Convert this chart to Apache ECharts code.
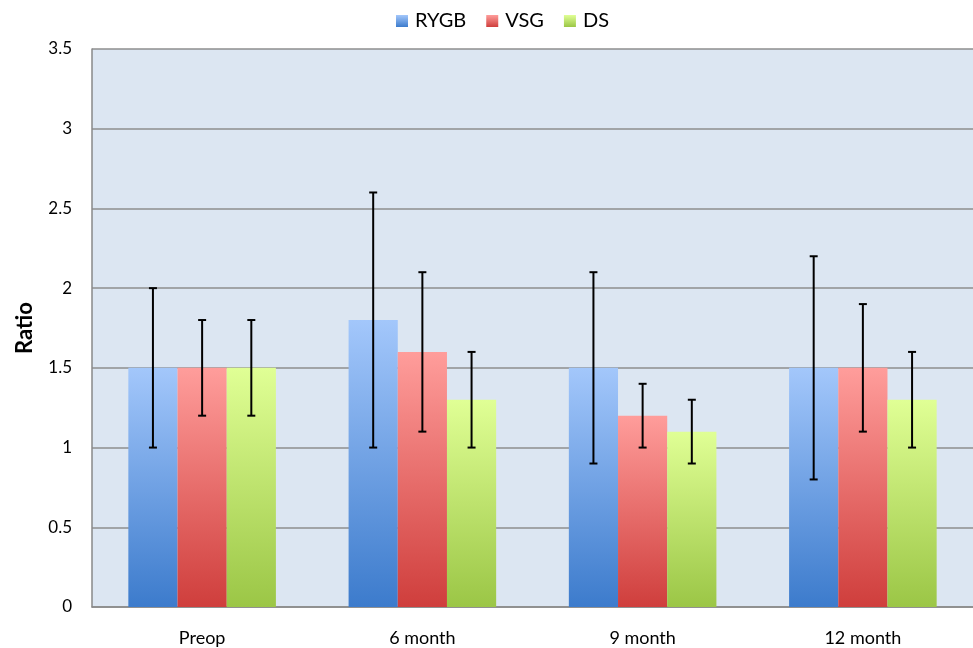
<!DOCTYPE html>
<html><head><meta charset="utf-8">
<script src="https://cdn.jsdelivr.net/npm/echarts@6/dist/echarts.min.js"></script>
<style>html,body{margin:0;padding:0;background:#fff}#c{width:973px;height:648px}</style>
</head><body><div id="c"></div>
<script>
const categories = ['Preop', '6 month', '9 month', '12 month'];
const seriesNames = ['RYGB', 'VSG', 'DS'];
const rygb = [1.5, 1.8, 1.5, 1.5];
const vsg = [1.5, 1.6, 1.2, 1.5];
const ds = [1.5, 1.3, 1.1, 1.3];
const rygbLow = [1.0, 1.0, 0.9, 0.8];
const rygbHigh = [2.0, 2.6, 2.1, 2.2];
const vsgLow = [1.2, 1.1, 1.0, 1.1];
const vsgHigh = [1.8, 2.1, 1.4, 1.9];
const dsLow = [1.2, 1.0, 0.9, 1.0];
const dsHigh = [1.8, 1.6, 1.3, 1.6];
const yTicks = [0, 0.5, 1, 1.5, 2, 2.5, 3, 3.5];

const values = [rygb, vsg, ds];
const lows = [rygbLow, vsgLow, dsLow];
const highs = [rygbHigh, vsgHigh, dsHigh];
const grads = [['#a3c7fb', '#3c7bcc'], ['#ff9d9b', '#cf3e3c'], ['#e0ff95', '#9bc646']];
const FONT = 'Lato, "Open Sans", sans-serif';
const GAP = 0.33;

const chart = echarts.init(document.getElementById('c'));
const series = [];
values.forEach((v, i) => {
  series.push({
    name: seriesNames[i], type: 'bar', data: v, barGap: '0%', barCategoryGap: (GAP * 100) + '%',
    itemStyle: { color: new echarts.graphic.LinearGradient(0, 0, 0, 1, [
      { offset: 0, color: grads[i][0] }, { offset: 1, color: grads[i][1] }]) }
  });
});
values.forEach((v, i) => {
  series.push({
    type: 'custom', z: 10, silent: true,
    data: categories.map((c, k) => [k, lows[i][k], highs[i][k]]),
    renderItem: function (params, api) {
      const k = api.value(0);
      const band = api.size([1, 0])[0];
      const bw = band * (1 - GAP) / 3;
      const lo = api.coord([k, api.value(1)]);
      const hi = api.coord([k, api.value(2)]);
      const x = lo[0] + (i - 1) * bw;
      const cap = 4;
      const st = { stroke: '#000', lineWidth: 2 };
      return { type: 'group', children: [
        { type: 'line', shape: { x1: x, y1: lo[1], x2: x, y2: hi[1] }, style: st },
        { type: 'line', shape: { x1: x - cap, y1: lo[1], x2: x + cap, y2: lo[1] }, style: st },
        { type: 'line', shape: { x1: x - cap, y1: hi[1], x2: x + cap, y2: hi[1] }, style: st }
      ] };
    }
  });
});

chart.setOption({
  animation: false,
  textStyle: { fontFamily: FONT },
  legend: {
    data: seriesNames, top: 6, left: 391, itemWidth: 12, itemHeight: 12, itemGap: 20,
    icon: 'rect', textStyle: { fontSize: 20, color: '#000', fontFamily: FONT, padding: [0, 0, 0, 2] }
  },
  grid: { left: 92, right: 0, top: 49, bottom: 41, show: true, backgroundColor: '#dce6f2', borderWidth: 0 },
  xAxis: {
    type: 'category', data: categories,
    axisLine: { lineStyle: { color: '#898989', width: 1.5 } },
    axisTick: { show: false },
    axisLabel: { fontSize: 18, color: '#000', margin: 22, fontFamily: FONT }
  },
  yAxis: {
    type: 'value', min: 0, max: 3.5, interval: 0.5,
    name: 'Ratio', nameLocation: 'middle', nameGap: 56, nameRotate: 90,
    nameTextStyle: { fontSize: 22, fontWeight: 'bold', color: '#000', fontFamily: FONT },
    axisLine: { show: true, lineStyle: { color: '#898989', width: 1.5 } },
    axisTick: { show: false },
    splitLine: { lineStyle: { color: '#8e8e8e', width: 1.5 } },
    axisLabel: { fontSize: 17, color: '#000', margin: 20, fontFamily: FONT,
      formatter: v => yTicks.includes(v) ? String(v) : '' }
  },
  series: series
});
</script></body></html>
